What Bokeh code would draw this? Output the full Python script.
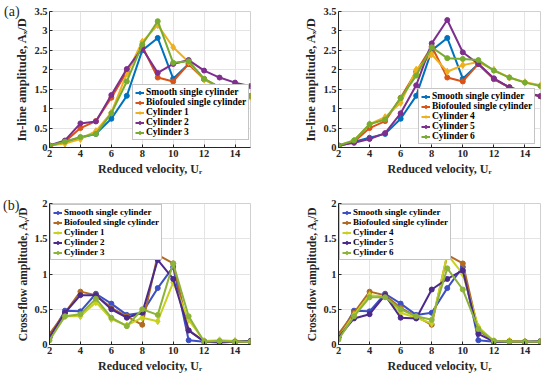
from bokeh.plotting import figure
from bokeh.layouts import column, row
from bokeh.models import Legend, LegendItem, Div, FixedTicker
from bokeh.embed import file_html
from bokeh.resources import INLINE

ur = [2, 3, 4, 5, 6, 7, 8, 9, 10, 11, 12, 13, 14, 15]

# In-line amplitude Ax/D
ax_smooth = [0.05, 0.15, 0.25, 0.35, 0.74, 1.33, 2.5, 2.82, 1.77, 2.15, 1.76, 1.55, 1.41, 1.32]
ax_biofouled = [0.03, 0.15, 0.5, 0.68, 1.28, 1.95, 2.6, 1.8, 1.7, 2.15, 1.76, 1.55, 1.41, 1.32]
ax_cyl1 = [0.05, 0.1, 0.22, 0.42, 0.9, 1.9, 2.72, 3.15, 2.58, 2.2, 1.75, 1.55, 1.42, 1.3]
ax_cyl2 = [0.05, 0.18, 0.62, 0.67, 1.35, 2.02, 2.55, 1.92, 2.15, 2.25, 1.98, 1.8, 1.67, 1.58]
ax_cyl3 = [0.05, 0.15, 0.27, 0.35, 0.88, 1.7, 2.65, 3.25, 2.18, 2.22, 1.77, 1.55, 1.42, 1.33]
ax_cyl4 = [0.05, 0.18, 0.6, 0.78, 1.15, 2.0, 2.4, 1.95, 2.12, 2.2, 2.0, 1.8, 1.68, 1.6]
ax_cyl5 = [0.05, 0.12, 0.22, 0.37, 0.88, 1.6, 2.68, 3.28, 2.45, 2.15, 1.78, 1.55, 1.42, 1.32]
ax_cyl6 = [0.05, 0.18, 0.6, 0.72, 1.27, 1.85, 2.58, 2.3, 2.28, 2.25, 1.98, 1.8, 1.67, 1.58]

# Cross-flow amplitude Ay/D
ay_smooth = [0.1, 0.48, 0.47, 0.72, 0.58, 0.42, 0.45, 0.8, 1.1, 0.06, 0.04, 0.04, 0.04, 0.05]
ay_biofouled = [0.15, 0.45, 0.75, 0.7, 0.52, 0.4, 0.28, 1.27, 1.15, 0.2, 0.05, 0.05, 0.04, 0.04]
ay_cyl1 = [0.08, 0.4, 0.4, 0.6, 0.36, 0.27, 0.38, 0.33, 0.88, 0.35, 0.05, 0.06, 0.05, 0.04]
ay_cyl2 = [0.1, 0.45, 0.7, 0.7, 0.5, 0.38, 0.45, 1.2, 0.93, 0.2, 0.04, 0.03, 0.04, 0.05]
ay_cyl3 = [0.06, 0.4, 0.43, 0.65, 0.38, 0.26, 0.5, 0.42, 1.15, 0.4, 0.04, 0.05, 0.04, 0.04]
ay_cyl4 = [0.1, 0.42, 0.7, 0.68, 0.45, 0.38, 0.3, 1.28, 1.0, 0.25, 0.05, 0.05, 0.04, 0.04]
ay_cyl5 = [0.1, 0.37, 0.43, 0.7, 0.38, 0.37, 0.78, 0.93, 1.05, 0.15, 0.04, 0.04, 0.04, 0.04]
ay_cyl6 = [0.07, 0.4, 0.67, 0.67, 0.5, 0.4, 0.35, 1.08, 0.78, 0.22, 0.05, 0.04, 0.04, 0.04]

x_ticks = [2, 4, 6, 8, 10, 12, 14]
y_ticks_top = [0, 0.5, 1, 1.5, 2, 2.5, 3, 3.5]
y_ticks_bottom = [0, 0.5, 1, 1.5, 2]

top_colors = ["#0072BD", "#D95319", "#EDB120", "#7E2F8E", "#77AC30"]
bottom_colors = ["#3D4FC4", "#B06A22", "#C9D11F", "#4B2A8C", "#8CB33A"]

FONT = "Liberation Serif"


def make_fig(series, names, colors, yr, yticks, ylabel, w, h, bl, br, bt, bb,
             legend_loc, legend_font, ylab_font):
    p = figure(width=w, height=h, x_range=(2, 15), y_range=yr,
               output_backend="svg", toolbar_location=None,
               min_border_left=bl, min_border_right=br,
               min_border_top=bt, min_border_bottom=bb)
    p.xaxis.ticker = FixedTicker(ticks=x_ticks)
    p.yaxis.ticker = FixedTicker(ticks=yticks)
    p.yaxis.major_label_overrides = {t: ("%g" % t) for t in yticks}
    for ax in (p.xaxis, p.yaxis):
        ax.major_label_text_font = FONT
        ax.major_label_text_font_style = "bold"
        ax.major_label_text_font_size = "10.5px"
        ax.major_label_text_color = "#262626"
        ax.axis_label_text_font = FONT
        ax.axis_label_text_font_style = "bold"
        ax.axis_label_text_font_size = "12px"
        ax.axis_label_text_color = "#262626"
        ax.axis_line_color = "#262626"
        ax.major_tick_in = 3
        ax.major_tick_out = 0
        ax.minor_tick_line_color = None
        ax.major_tick_line_color = "#262626"
        ax.major_label_standoff = 2
    p.yaxis.axis_label_text_font_size = ylab_font
    p.xaxis.axis_label = "Reduced velocity, Uᵣ"
    p.yaxis.axis_label = ylabel
    p.xaxis.axis_label_standoff = 2
    p.yaxis.axis_label_standoff = 2
    p.grid.grid_line_color = "#e4e4e4"
    p.outline_line_color = "#d0d0d0"
    items = []
    for i, (ys, name, c) in enumerate(zip(series, names, colors)):
        ln = p.line(ur, ys, line_color=c, line_width=2)
        if i == 2:
            mk = p.scatter(ur, ys, marker="diamond", size=7, color=c)
        else:
            mk = p.scatter(ur, ys, marker="circle", size=5, color=c)
        items.append(LegendItem(label=name, renderers=[ln, mk]))
    leg = Legend(items=items, location=legend_loc)
    leg.label_text_font = FONT
    leg.label_text_font_style = "bold"
    leg.label_text_font_size = legend_font
    leg.label_text_line_height = 0.9
    leg.label_text_color = "#000000"
    leg.label_height = 7
    leg.glyph_height = 7
    leg.glyph_width = 9
    leg.label_standoff = 2
    leg.spacing = 0
    leg.padding = 2
    leg.margin = 1
    leg.border_line_color = "#8a8a8a"
    leg.background_fill_alpha = 1.0
    p.add_layout(leg)
    return p


top_names_l = ["Smooth single cylinder", "Biofouled single cylinder", "Cylinder 1", "Cylinder 2", "Cylinder 3"]
top_names_r = ["Smooth single cylinder", "Biofouled single cylinder", "Cylinder 4", "Cylinder 5", "Cylinder 6"]

ylab_top = "In-line amplitude, Aₓ/D"
ylab_bot = "Cross-flow amplitude, Aᵧ/D"

p1 = make_fig([ax_smooth, ax_biofouled, ax_cyl1, ax_cyl2, ax_cyl3], top_names_l, top_colors,
              (0, 3.5), y_ticks_top, ylab_top, 275, 190, 49, 25, 11, 43, (83, 7), "9.5px", "12.5px")
p2 = make_fig([ax_smooth, ax_biofouled, ax_cyl4, ax_cyl5, ax_cyl6], top_names_r, top_colors,
              (0, 3.5), y_ticks_top, ylab_top, 275, 190, 63, 10, 11, 43, (80, 3), "9.5px", "12.5px")
p3 = make_fig([ay_smooth, ay_biofouled, ay_cyl1, ay_cyl2, ay_cyl3], top_names_l, bottom_colors,
              (0, 2), y_ticks_bottom, ylab_bot, 275, 187, 49, 25, 13, 33, "top_left", "9px", "11.5px")
p4 = make_fig([ay_smooth, ay_biofouled, ay_cyl4, ay_cyl5, ay_cyl6], top_names_r, bottom_colors,
              (0, 2), y_ticks_bottom, ylab_bot, 275, 187, 63, 10, 13, 33, "top_left", "9px", "11.5px")

div_style = {"position": "absolute", "font-family": FONT, "font-size": "14px",
             "color": "#262626", "line-height": "14px"}
div_a = Div(text="(a)", margin=0, styles=dict(div_style, left="4px", top="5px"))
div_b = Div(text="(b)", margin=0, styles=dict(div_style, left="3px", top="199px"))

layout = column(row(p1, p2), row(p3, p4), div_a, div_b)
open("out.html", "w").write(file_html(layout, INLINE))
